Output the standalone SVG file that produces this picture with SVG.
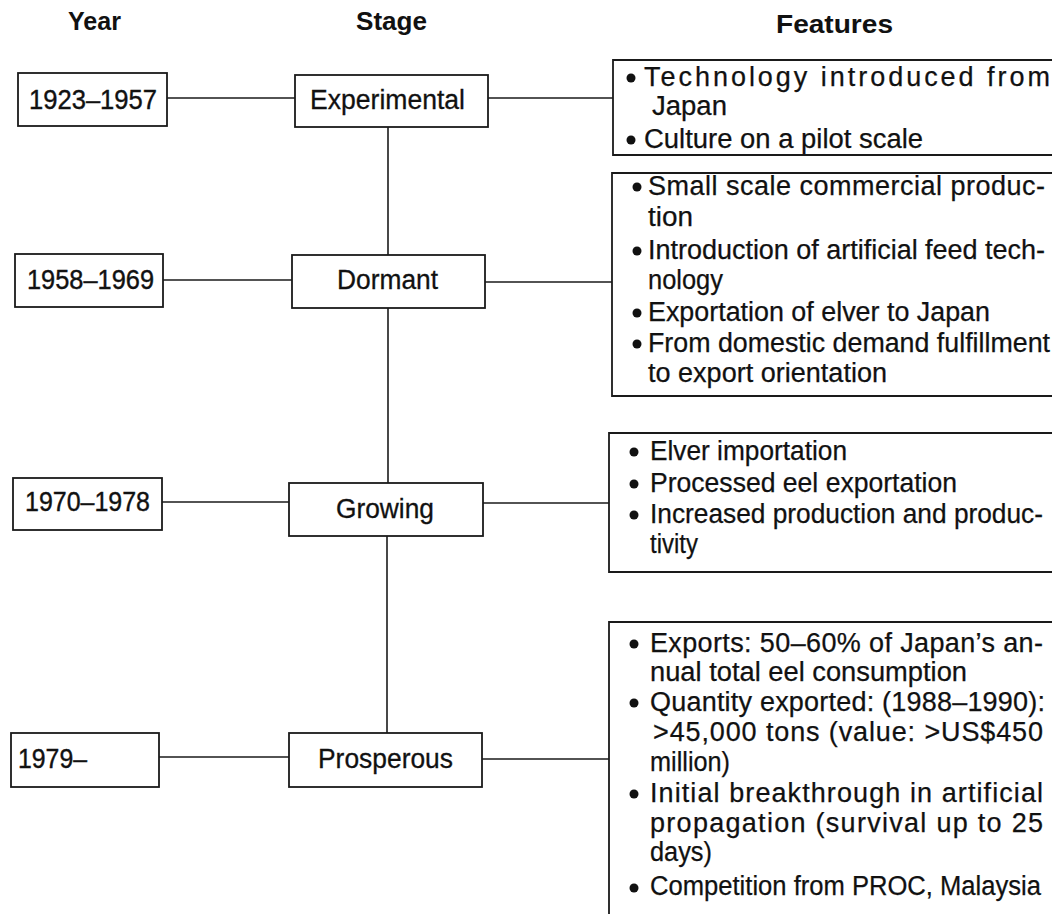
<svg xmlns="http://www.w3.org/2000/svg" width="1052" height="914" viewBox="0 0 1052 914">
  <style>
    .hdr { font-family: "Liberation Sans", Arial, sans-serif; font-weight: bold; font-size: 25px; fill: #111; }
    .lbl { font-family: "Liberation Sans", Arial, sans-serif; font-size: 27px; fill: #111; stroke: #111; stroke-width: 0.3; }
    .yr  { font-family: "Liberation Sans", Arial, sans-serif; font-size: 27px; fill: #111; stroke: #111; stroke-width: 0.4; }
    .ft  { font-family: "Liberation Sans", Arial, sans-serif; font-size: 27px; fill: #111; stroke: #111; stroke-width: 0.25; }
    .box { fill: #fff; stroke: #1a1a1a; stroke-width: 1.8; }
    .fbox { fill: none; stroke: #1a1a1a; stroke-width: 1.8; }
    .con { stroke: #1a1a1a; stroke-width: 1.6; fill: none; }
    .dot { fill: #111; }
  </style>

  <rect width="1052" height="914" fill="#fff"/>

  <!-- column headings -->
  <g id="headings">
    <text class="hdr" x="68" y="30" textLength="53" lengthAdjust="spacingAndGlyphs">Year</text>
    <text class="hdr" x="356" y="30" textLength="71" lengthAdjust="spacingAndGlyphs">Stage</text>
    <text class="hdr" x="776" y="33" textLength="117" lengthAdjust="spacingAndGlyphs">Features</text>
  </g>

  <!-- connectors -->
  <g id="connectors">
    <!-- year to stage -->
    <line class="con" x1="167" y1="98" x2="295" y2="98"/>
    <line class="con" x1="163" y1="280" x2="292" y2="280"/>
    <line class="con" x1="162" y1="502" x2="289" y2="502"/>
    <line class="con" x1="159" y1="757" x2="289" y2="757"/>
    <!-- stage to features -->
    <line class="con" x1="488" y1="98" x2="613" y2="98"/>
    <line class="con" x1="485" y1="282" x2="612" y2="282"/>
    <line class="con" x1="483" y1="503" x2="609" y2="503"/>
    <line class="con" x1="482" y1="759" x2="609" y2="759"/>
    <!-- stage spine -->
    <line class="con" x1="388" y1="127" x2="388" y2="255"/>
    <line class="con" x1="388" y1="308" x2="388" y2="483"/>
    <line class="con" x1="387" y1="536" x2="387" y2="733"/>
  </g>

  <!-- year nodes -->
  <g id="year-1923">
    <rect class="box" x="18" y="73" width="149" height="53"/>
    <text class="yr" x="29" y="109" textLength="128" lengthAdjust="spacingAndGlyphs">1923–1957</text>
  </g>
  <g id="year-1958">
    <rect class="box" x="15" y="254" width="148" height="53"/>
    <text class="yr" x="27" y="289" textLength="127" lengthAdjust="spacingAndGlyphs">1958–1969</text>
  </g>
  <g id="year-1970">
    <rect class="box" x="13" y="478" width="149" height="52"/>
    <text class="yr" x="25" y="511" textLength="125" lengthAdjust="spacingAndGlyphs">1970–1978</text>
  </g>
  <g id="year-1979">
    <rect class="box" x="11" y="733" width="148" height="54"/>
    <text class="yr" x="18" y="768" textLength="69" lengthAdjust="spacingAndGlyphs">1979–</text>
  </g>

  <!-- stage nodes -->
  <g id="stage-experimental">
    <rect class="box" x="295" y="75" width="193" height="52"/>
    <text class="lbl" x="310" y="109" textLength="155" lengthAdjust="spacingAndGlyphs">Experimental</text>
  </g>
  <g id="stage-dormant">
    <rect class="box" x="292" y="255" width="193" height="53"/>
    <text class="lbl" x="337" y="289" textLength="101" lengthAdjust="spacingAndGlyphs">Dormant</text>
  </g>
  <g id="stage-growing">
    <rect class="box" x="289" y="483" width="194" height="53"/>
    <text class="lbl" x="336" y="518" textLength="98" lengthAdjust="spacingAndGlyphs">Growing</text>
  </g>
  <g id="stage-prosperous">
    <rect class="box" x="289" y="733" width="193" height="54"/>
    <text class="lbl" x="318" y="768" textLength="135" lengthAdjust="spacingAndGlyphs">Prosperous</text>
  </g>

  <!-- feature nodes: frames open on the right, running to the page edge -->
  <g id="features-experimental">
    <path class="fbox" d="M1052,60 H613 V155 H1052"/>
    <circle class="dot" cx="631" cy="78" r="4.5"/>
    <circle class="dot" cx="631" cy="140" r="4.5"/>
    <text class="ft" x="644" y="86" textLength="406">Technology introduced from</text>
    <text class="ft" x="652" y="115" textLength="75" lengthAdjust="spacingAndGlyphs">Japan</text>
    <text class="ft" x="644" y="148" textLength="279" lengthAdjust="spacingAndGlyphs">Culture on a pilot scale</text>
  </g>

  <g id="features-dormant">
    <path class="fbox" d="M1052,173 H612 V396 H1052"/>
    <circle class="dot" cx="637" cy="187" r="4.5"/>
    <circle class="dot" cx="637" cy="251" r="4.5"/>
    <circle class="dot" cx="637" cy="313" r="4.5"/>
    <circle class="dot" cx="637" cy="344" r="4.5"/>
    <text class="ft" x="648" y="195" textLength="397">Small scale commercial produc-</text>
    <text class="ft" x="648" y="226" textLength="45" lengthAdjust="spacingAndGlyphs">tion</text>
    <text class="ft" x="648" y="259" textLength="397">Introduction of artificial feed tech-</text>
    <text class="ft" x="648" y="289" textLength="75" lengthAdjust="spacingAndGlyphs">nology</text>
    <text class="ft" x="648" y="321" textLength="342" lengthAdjust="spacingAndGlyphs">Exportation of elver to Japan</text>
    <text class="ft" x="648" y="352" textLength="402" lengthAdjust="spacingAndGlyphs">From domestic demand fulfillment</text>
    <text class="ft" x="648" y="382" textLength="239" lengthAdjust="spacingAndGlyphs">to export orientation</text>
  </g>

  <g id="features-growing">
    <path class="fbox" d="M1052,433 H609 V572 H1052"/>
    <circle class="dot" cx="634" cy="452" r="4.5"/>
    <circle class="dot" cx="634" cy="484" r="4.5"/>
    <circle class="dot" cx="634" cy="515" r="4.5"/>
    <text class="ft" x="650" y="460" textLength="197" lengthAdjust="spacingAndGlyphs">Elver importation</text>
    <text class="ft" x="650" y="492" textLength="307" lengthAdjust="spacingAndGlyphs">Processed eel exportation</text>
    <text class="ft" x="650" y="523" textLength="393" lengthAdjust="spacingAndGlyphs">Increased production and produc-</text>
    <text class="ft" x="650" y="553" textLength="48" lengthAdjust="spacingAndGlyphs">tivity</text>
  </g>

  <g id="features-prosperous">
    <path class="fbox" d="M1052,622 H609 V914"/>
    <circle class="dot" cx="634" cy="644" r="4.5"/>
    <circle class="dot" cx="634" cy="703" r="4.5"/>
    <circle class="dot" cx="634" cy="794" r="4.5"/>
    <circle class="dot" cx="634" cy="888" r="4.5"/>
    <text class="ft" x="650" y="652" textLength="393">Exports: 50–60% of Japan’s an-</text>
    <text class="ft" x="650" y="681" textLength="317" lengthAdjust="spacingAndGlyphs">nual total eel consumption</text>
    <text class="ft" x="650" y="711" textLength="395">Quantity exported: (1988–1990):</text>
    <text class="ft" x="653" y="741" textLength="390">&gt;45,000 tons (value: &gt;US$450</text>
    <text class="ft" x="650" y="771" textLength="80" lengthAdjust="spacingAndGlyphs">million)</text>
    <text class="ft" x="650" y="802" textLength="393">Initial breakthrough in artificial</text>
    <text class="ft" x="650" y="832" textLength="393">propagation (survival up to 25</text>
    <text class="ft" x="650" y="861" textLength="62" lengthAdjust="spacingAndGlyphs">days)</text>
    <text class="ft" x="650" y="895" textLength="391" lengthAdjust="spacingAndGlyphs">Competition from PROC, Malaysia</text>
  </g>
</svg>
